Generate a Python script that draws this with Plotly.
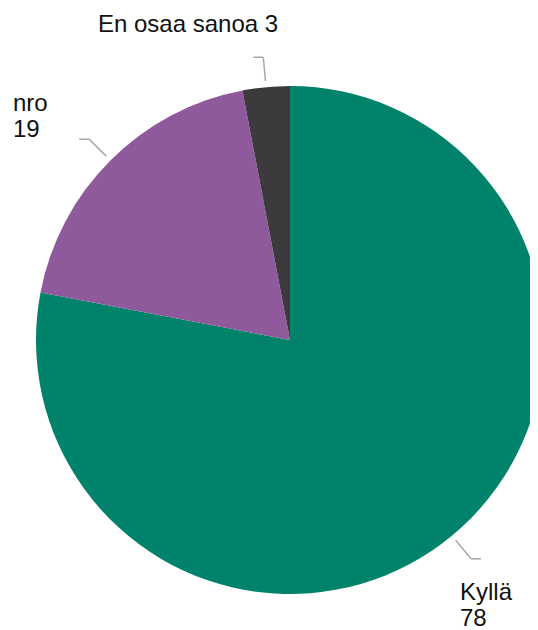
import math
import plotly.graph_objects as go

# data
labels = ["Kyllä", "nro", "En osaa sanoa"]
values = [78, 19, 3]
colors = ["#00826B", "#8F5A9B", "#3D3A3E"]

# label text layout: lines, and (dx, dy) of first baseline from leader end, in px
label_lines = [["Kyllä", "78"], ["nro", "19"], ["En osaa sanoa 3"]]
label_offsets = [(-21, 43), (-66, -27), (-155, -24)]

W, H = 538, 630
PAGE = 8           # body margin of the html page, screen = figure + PAGE
# pie geometry in screen pixels (centre ~ (290, 340), r ~ 254; right edge clipped)
cx, cy, R = 290, 340, 254
FONT = "Liberation Sans, Arial, sans-serif"


def px(x, y):
    """screen pixel -> paper coords"""
    return (x - PAGE) / W, 1 - (y - PAGE) / H


fig = go.Figure()
dx0, dy1 = px(cx - R, cy - R)
dx1, dy0 = px(cx + R, cy + R)
fig.add_trace(go.Pie(
    labels=labels,
    values=values,
    sort=False,
    direction="clockwise",
    rotation=0,
    marker=dict(colors=colors, line=dict(width=0)),
    textinfo="none",
    hovertemplate="%{label}: %{value}<extra></extra>",
    showlegend=False,
    domain=dict(x=[max(dx0, 0), min(dx1, 1)], y=[max(dy0, 0), min(dy1, 1)]),
))

# leader lines + labels, placed from each slice's mid angle
total = sum(values)
cum = 0
for lab, val, lines, (ox, oy) in zip(labels, values, label_lines, label_offsets):
    mid = (cum + val / 2) / total * 2 * math.pi
    cum += val
    s, c = math.sin(mid), math.cos(mid)
    x0, y0 = cx + s * (R + 6), cy - c * (R + 6)
    x1, y1 = cx + s * (R + 30), cy - c * (R + 30)
    x2 = x1 + (10 if s > 0 else -10)
    for (ax, ay), (bx, by) in [((x0, y0), (x1, y1)), ((x1, y1), (x2, y1))]:
        pa, pb = px(ax, ay), px(bx, by)
        fig.add_shape(type="line", xref="paper", yref="paper",
                      x0=pa[0], y0=pa[1], x1=pb[0], y1=pb[1],
                      line=dict(color="#A8A8A8", width=1.5))
    for i, line in enumerate(lines):
        tx, ty = px(x2 + ox - 2, y1 + oy + i * 26 - 10)
        fig.add_annotation(x=tx, y=ty, xref="paper", yref="paper",
                           text=line, showarrow=False,
                           xanchor="left", yanchor="middle",
                           font=dict(family=FONT, size=24, color="#111111"))

fig.update_layout(
    width=W, height=H,
    margin=dict(l=0, r=0, t=0, b=0),
    paper_bgcolor="white",
    plot_bgcolor="white",
    font=dict(family=FONT),
)

fig.write_html("out.html", config={"displayModeBar": False})
